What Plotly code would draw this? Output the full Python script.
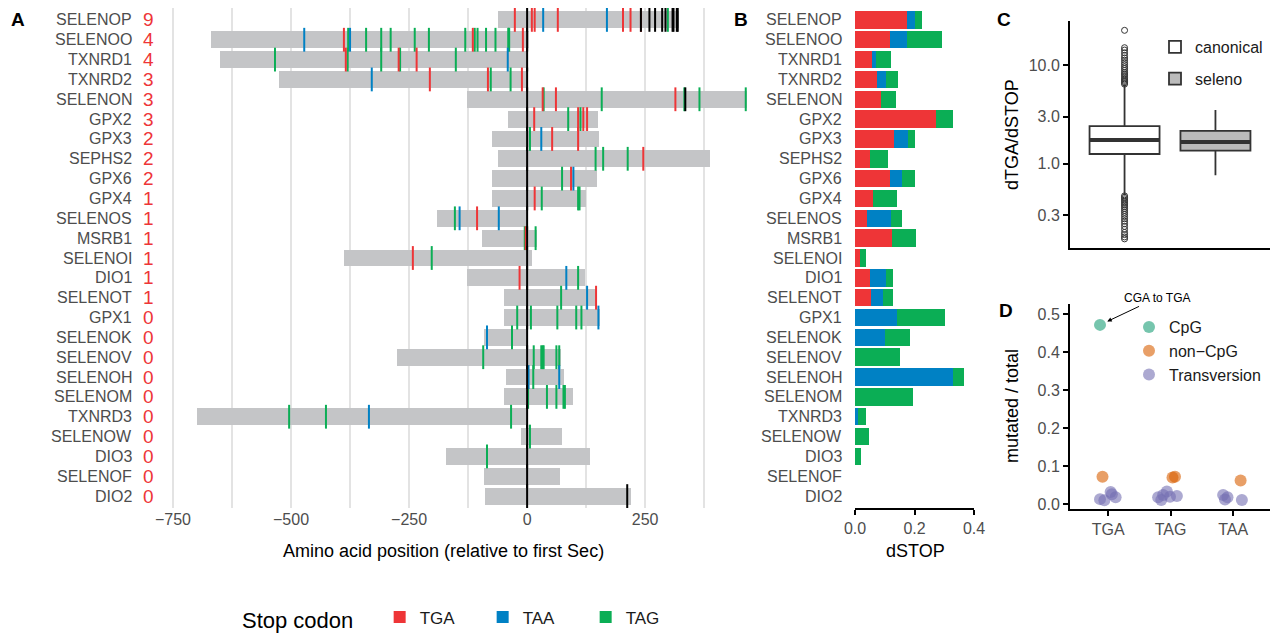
import plotly.graph_objects as go

# page has an 8px body margin; the figure is sized to fill the rest of the 1280x633 window
OFF = 8
W, H = 1280 - OFF, 633 - OFF
def px(x): return (x - OFF) / W
def py(y): return min(1.0, max(0.0, 1 - (y - OFF) / H))

RED, BLUE, GREEN, BAR_GRAY = '#EE3537', '#0081C4', '#0BAE55', '#C4C5C7'
TXT = '#4D4D4D'
FONT = 'Liberation Sans, Arial, Helvetica, sans-serif'

# ---------------- Panel A / B data ----------------
genes = ['SELENOP', 'SELENOO', 'TXNRD1', 'TXNRD2', 'SELENON', 'GPX2', 'GPX3', 'SEPHS2',
         'GPX6', 'GPX4', 'SELENOS', 'MSRB1', 'SELENOI', 'DIO1', 'SELENOT', 'GPX1',
         'SELENOK', 'SELENOV', 'SELENOH', 'SELENOM', 'TXNRD3', 'SELENOW', 'DIO3',
         'SELENOF', 'DIO2']
stop_counts = [9, 4, 4, 3, 3, 3, 2, 2, 2, 1, 1, 1, 1, 1, 1, 0, 0, 0, 0, 0, 0, 0, 0, 0, 0]
prot_start = [-62, -670, -650, -525, -127, -40, -74, -62, -74, -74, -190, -96, -387, -127,
              -50, -48, -92, -275, -44, -48, -699, -14, -172, -92, -90]
prot_end = [322, 3, 2, 2, 465, 150, 153, 388, 149, 125, 1, 20, 10, 123, 148, 154, 1, 71,
            79, 98, 1, 74, 134, 70, 219]
sec_pos = [[0, 241, 259, 271, 286, 293, 308, 310, 317, 319], [0], [0], [0], [0, 335], [0], [0],
           [0], [0], [0], [0], [0], [0], [0], [0], [0], [0], [0], [0], [0], [0], [0], [0], [0],
           [0, 212]]
tga_pos = [[-26, 10, 16, 65, 203, 219, 241], [-388, -115, -9], [-384, -272, -234],
           [-206, -83, -11], [33, 61, 314], [15, 108, 119, 127], [53, 108], [246], [93],
           [16], [-106], [-3], [-242], [-16], [146], [], [], [], [], [], [], [], [], [], []]
taa_pos = [[34, 169], [-472, -375], [-41], [-329], [], [], [30], [], [98], [], [-143, -60],
           [], [], [83], [127], [151], [-85], [], [3, 68], [], [-335], [], [], [], []]
tag_pos = [[298], [-379, -341, -309, -289, -238, -208, -131, -111, -105, -87, -67, -40, -38],
           [-534, -380, -309, -269, -151], [-77, -35], [35, 158, 333, 365, 463], [87, 113],
           [6], [145, 161, 213], [74], [31, 108, 111], [-153], [-5, 18], [-202], [108], [72],
           [-21, 8, 64, 104, 115], [-32], [-93, 14, 30, 33, 35, 62, 68], [13],
           [2, 42, 62, 77, 80], [-504, -426, -34], [6], [-85], [], []]

dstop_tga = [0.174, 0.117, 0.056, 0.074, 0.089, 0.272, 0.130, 0.049, 0.117, 0.060, 0.041,
             0.124, 0.018, 0.049, 0.054, 0, 0, 0, 0, 0, 0, 0, 0, 0, 0]
dstop_taa = [0.029, 0.057, 0.014, 0.030, 0, 0, 0.048, 0, 0.041, 0, 0.081, 0, 0, 0.055,
             0.040, 0.141, 0.101, 0, 0.331, 0, 0.010, 0, 0, 0, 0]
dstop_tag = [0.022, 0.118, 0.051, 0.040, 0.048, 0.056, 0.023, 0.062, 0.043, 0.081, 0.036,
             0.080, 0.019, 0.023, 0.033, 0.161, 0.083, 0.151, 0.034, 0.194, 0.027, 0.047,
             0.020, 0, 0]

a_ticks = [-875, -750, -625, -500, -375, -250, -125, 0, 125, 250, 375]
a_ticktext = ['', '\u2212750', '', '\u2212500', '', '\u2212250', '', '0', '', '250', '']

# ---------------- Panel C data ----------------
box_groups = ['canonical', 'seleno']
box_pos = [1, 2]
box_q1 = [1.25, 1.35]
box_median = [1.73, 1.66]
box_q3 = [2.40, 2.15]
box_low = [0.48, 0.76]
box_high = [6.3, 3.49]
box_fill = ['white', '#BBBBBB']
canon_out_high = [6.4, 6.6, 6.8, 7.0, 7.2, 7.5, 7.8, 8.1, 8.4, 8.8, 9.2, 9.6, 10.1, 10.6,
                  11.2, 11.8, 12.5, 13.3, 14.2, 15.0, 22.5]
canon_out_low = [0.47, 0.455, 0.44, 0.425, 0.41, 0.395, 0.38, 0.365, 0.35, 0.335, 0.32,
                 0.305, 0.29, 0.275, 0.26, 0.245, 0.23, 0.215, 0.2, 0.19, 0.18, 0.172]

# ---------------- Panel D data ----------------
codons = ['TGA', 'TAG', 'TAA']
cpg_codon = ['TGA']
cpg_rate = [0.472]
cpg_jit = [-0.13]
noncpg_codon = ['TGA', 'TAG', 'TAG', 'TAA']
noncpg_rate = [0.072, 0.070, 0.072, 0.062]
noncpg_jit = [-0.09, 0.03, 0.07, 0.12]
tv_codon = ['TGA'] * 5 + ['TAG'] * 6 + ['TAA'] * 4
tv_rate = [0.013, 0.010, 0.032, 0.026, 0.018,
           0.018, 0.011, 0.024, 0.033, 0.019, 0.021,
           0.024, 0.012, 0.018, 0.011]
tv_jit = [-0.13, -0.06, 0.04, 0.06, 0.12,
          -0.2, -0.15, -0.12, -0.06, -0.01, 0.1,
          -0.16, -0.13, -0.09, 0.14]

fig = go.Figure()

# Panel A: protein bars
fig.add_trace(go.Bar(y=genes, x=[e - s for s, e in zip(prot_start, prot_end)], base=prot_start,
                     orientation='h', marker=dict(color=BAR_GRAY, line=dict(width=0)),
                     width=0.85, xaxis='x', yaxis='y', showlegend=False, hoverinfo='skip'))

def add_ticks(pos_lists, color):
    xs, ys = [], []
    for g, lst in zip(genes, pos_lists):
        for p in lst:
            xs.append(p)
            ys.append(g)
    fig.add_trace(go.Scatter(x=xs, y=ys, mode='markers', xaxis='x', yaxis='y',
                             marker=dict(symbol='line-ns', size=17,
                                         line=dict(width=2, color=color)),
                             showlegend=False, hoverinfo='skip'))

add_ticks(tag_pos, GREEN)
add_ticks(taa_pos, BLUE)
add_ticks(tga_pos, RED)
add_ticks(sec_pos, 'black')

# Panel B: stacked dSTOP
for name, vals, col in [('TGA', dstop_tga, RED), ('TAA', dstop_taa, BLUE), ('TAG', dstop_tag, GREEN)]:
    fig.add_trace(go.Bar(y=genes, x=vals, orientation='h', name=name,
                         marker=dict(color=col, line=dict(width=0)), width=0.88,
                         xaxis='x2', yaxis='y2', legend='legend'))

# Panel C: boxes
for i, g in enumerate(box_groups):
    fig.add_trace(go.Box(x=[box_pos[i]], q1=[box_q1[i]], median=[box_median[i]], q3=[box_q3[i]],
                         lowerfence=[box_low[i]], upperfence=[box_high[i]], name=g,
                         width=0.77, whiskerwidth=0, fillcolor=box_fill[i],
                         line=dict(color='#333333', width=1.8), boxpoints=False,
                         xaxis='x3', yaxis='y3', legend='legend2', legendgroup=g))
    fig.add_trace(go.Scatter(x=[box_pos[i] - 0.385, box_pos[i] + 0.385],
                             y=[box_median[i], box_median[i]], mode='lines',
                             line=dict(color='#333333', width=4), xaxis='x3', yaxis='y3',
                             showlegend=False, hoverinfo='skip'))
outs = canon_out_high + canon_out_low
fig.add_trace(go.Scatter(x=[box_pos[0]] * len(outs), y=outs, mode='markers',
                         marker=dict(symbol='circle-open', size=6, color='#333333',
                                     line=dict(width=1)),
                         xaxis='x3', yaxis='y3', showlegend=False, hoverinfo='skip'))

# Panel D
for name, cod, val, jit, col in [
        ('CpG', cpg_codon, cpg_rate, cpg_jit, '#1B9E77'),
        ('non\u2212CpG', noncpg_codon, noncpg_rate, noncpg_jit, '#D95F02'),
        ('Transversion', tv_codon, tv_rate, tv_jit, '#7570B3')]:
    fig.add_trace(go.Scatter(x=[codons.index(c) + j for c, j in zip(cod, jit)], y=val,
                             mode='markers', name=name,
                             marker=dict(size=12, color=col, opacity=0.6, line=dict(width=0)),
                             xaxis='x4', yaxis='y4', legend='legend3'))

annotations = []
for g, c in zip(genes, stop_counts):
    annotations.append(dict(x=px(134), xref='paper', y=g, yref='y', text=g, showarrow=False,
                            xanchor='right', yanchor='middle', font=dict(size=16, color=TXT)))
    annotations.append(dict(x=px(148), xref='paper', y=g, yref='y', text=str(c), showarrow=False,
                            xanchor='center', yanchor='middle', font=dict(size=19, color=RED)))
    annotations.append(dict(x=px(844), xref='paper', y=g, yref='y2', text=g, showarrow=False,
                            xanchor='right', yanchor='middle', font=dict(size=16, color=TXT)))

for lab, x, y in [('A', 18, 20), ('B', 741, 20), ('C', 1004, 20), ('D', 1006, 310)]:
    annotations.append(dict(x=px(x), y=py(y), xref='paper', yref='paper', text='<b>%s</b>' % lab,
                            xanchor='center', yanchor='middle', showarrow=False,
                            font=dict(size=19, color='black')))

def title_ann(text, x, y, angle=0):
    return dict(x=px(x), y=py(y), xref='paper', yref='paper', showarrow=False, textangle=angle,
                xanchor='center', yanchor='middle', text=text, font=dict(size=18, color='black'))

annotations += [
    title_ann('Amino acid position (relative to first Sec)', 443, 551),
    title_ann('dSTOP', 915, 551),
    title_ann('dTGA/dSTOP', 1012, 135, -90),
    title_ann('mutated / total', 1012, 406, -90),
    dict(x=codons.index(cpg_codon[0]) + cpg_jit[0], y=cpg_rate[0], xref='x4', yref='y4',
         text='CGA to TGA', showarrow=True, arrowhead=2, arrowsize=0.9, arrowwidth=1,
         arrowcolor='black', standoff=8, ax=57, ay=-27, font=dict(size=12, color='black')),
]

axis_common = dict(zeroline=False, showgrid=False, automargin=False)
fig.update_layout(
    width=W, height=H, margin=dict(l=0, r=0, t=0, b=0, pad=0, autoexpand=False),
    paper_bgcolor='white', plot_bgcolor='white', barmode='stack',
    font=dict(family=FONT, color=TXT),
    xaxis=dict(domain=[px(164), px(750)], range=[-769, 472], tickvals=a_ticks, ticktext=a_ticktext,
               showgrid=True, gridcolor='#E3E3E3', gridwidth=1.6, zeroline=False,
               ticks='', tickfont=dict(size=16, color=TXT), showline=False, anchor='y',
               automargin=False),
    yaxis=dict(domain=[py(508), py(8)], type='category', categoryorder='array',
               categoryarray=genes, range=[24.6, -0.6], showticklabels=False, ticks='',
               anchor='x', **axis_common),
    xaxis2=dict(domain=[px(855), px(974)], range=[0, 0.4], tickvals=[0, 0.2, 0.4],
                ticktext=['0.0', '0.2', '0.4'], showline=True, linecolor='black', linewidth=1.5,
                ticks='outside', ticklen=5, tickwidth=1.5, tickcolor='black',
                tickfont=dict(size=16, color=TXT), anchor='y2', **axis_common),
    yaxis2=dict(domain=[py(508), py(8)], type='category', categoryorder='array',
                categoryarray=genes, range=[24.6, -0.6], showticklabels=False, ticks='',
                anchor='x2', **axis_common),
    xaxis3=dict(domain=[px(1070), px(1270)], range=[0.4, 2.6], showline=True, linecolor='black',
                linewidth=2, showticklabels=False, ticks='', anchor='y3', **axis_common),
    yaxis3=dict(domain=[py(248), py(21)], type='log', range=[-0.857, 1.447],
                tickvals=[0.3, 1, 3, 10], ticktext=['0.3', '1.0', '3.0', '10.0'],
                ticks='outside', ticklen=5, tickwidth=1.5, tickcolor='black',
                showline=True, linecolor='black', linewidth=2,
                tickfont=dict(size=16, color=TXT), anchor='x3', **axis_common),
    xaxis4=dict(domain=[px(1070), px(1270)], range=[-0.61, 2.59], tickvals=[0, 1, 2],
                ticktext=codons, ticks='outside', ticklen=5, tickwidth=1.5, tickcolor='black',
                showline=True, linecolor='black', linewidth=2,
                tickfont=dict(size=16, color=TXT), anchor='y4', **axis_common),
    yaxis4=dict(domain=[py(509), py(304)], range=[-0.013, 0.527],
                tickvals=[0, 0.1, 0.2, 0.3, 0.4, 0.5],
                ticktext=['0.0', '0.1', '0.2', '0.3', '0.4', '0.5'],
                ticks='outside', ticklen=5, tickwidth=1.5, tickcolor='black',
                showline=True, linecolor='black', linewidth=2,
                tickfont=dict(size=16, color=TXT), anchor='x4', **axis_common),
    legend=dict(orientation='h', x=px(240), y=py(619), xanchor='left', yanchor='middle',
                title=dict(text='Stop codon\u00a0\u00a0\u00a0', font=dict(size=22, color='black')),
                font=dict(size=17, color='#1A1A1A'), bgcolor='rgba(0,0,0,0)',
                traceorder='normal', entrywidth=58),
    legend2=dict(x=px(1155), y=py(30), xanchor='left', yanchor='top',
                 font=dict(size=16, color='#1A1A1A'), bgcolor='rgba(0,0,0,0)',
                 tracegroupgap=8, traceorder='grouped'),
    legend3=dict(x=px(1129), y=py(310), xanchor='left', yanchor='top',
                 font=dict(size=16, color='#1A1A1A'), bgcolor='rgba(0,0,0,0)'),
    annotations=annotations,
)

fig.write_html('out.html')
